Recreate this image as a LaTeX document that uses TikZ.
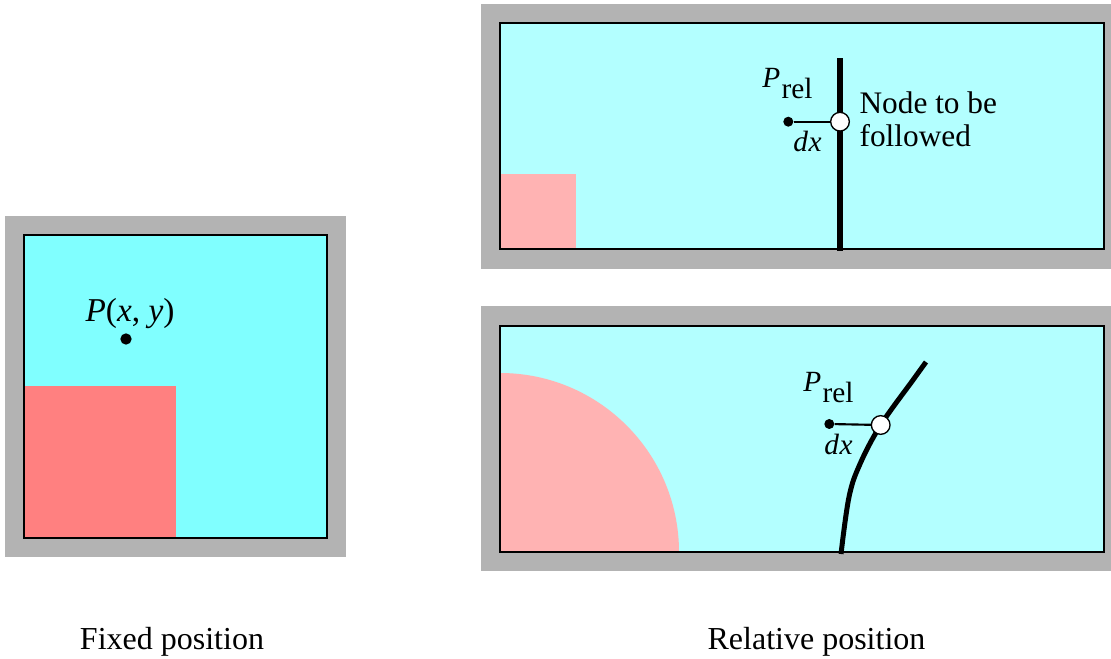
\documentclass[tikz,border=0pt]{standalone}
\usepackage{fontspec}
\setmainfont{Liberation Serif}
\definecolor{panelgray}{RGB}{179,179,179}
\definecolor{cyanA}{RGB}{128,255,255}
\definecolor{redA}{RGB}{255,128,128}
\definecolor{cyanB}{RGB}{179,255,255}
\definecolor{pinkB}{RGB}{255,179,179}
\tikzset{
  panel/.style={fill=panelgray},
  border/.style={draw=black, line width=1.5pt},
  ring/.style={circle, draw=black, fill=white, line width=1pt, minimum size=14pt, inner sep=0pt},
  blackdot/.style={circle, fill=black, minimum size=7.5pt, inner sep=0pt},
  track/.style={line width=4pt},
  link/.style={line width=1.6pt},
  biglbl/.style={inner sep=0pt, font=\fontsize{24}{28}\selectfont},
  midlbl/.style={inner sep=0pt, font=\fontsize{23.5}{25}\selectfont},
  smalllbl/.style={inner sep=0pt, font=\fontsize{22}{26}\selectfont}
}
\begin{document}
\begin{tikzpicture}[x=0.75pt,y=-0.75pt]
\useasboundingbox (0,0) rectangle (1111,659);

% ---------- left panel: fixed position ----------
\fill[panel] (5,216) rectangle (346,557);
\fill[cyanA] (24,235) rectangle (327,538);
\fill[redA] (24,386) rectangle (176,538);
\draw[border] (24,235) rectangle (327,538);
\node[blackdot, minimum size=8.5pt] (pfix) at (126,339) {};
\node[biglbl, font=\fontsize{25}{28}\selectfont, anchor=base] (pfixlbl) at (130,322) {\itshape P\/\upshape(\itshape x\upshape, \itshape y\/\upshape)};

% ---------- top right panel ----------
\fill[panel] (481,4) rectangle (1111,269);
\fill[cyanB] (500.3,23.3) rectangle (1104,249.5);
\fill[pinkB] (500.3,174) rectangle (576,249.5);
\draw[border] (500.3,23.3) rectangle (1104,249.5);
\coordinate (ttop) at (840,58.3);
\coordinate (tbot) at (840,251);
\draw[track] (tbot) -- (ttop);
\coordinate (tc) at (840,121.7);
\node[blackdot] (td) at (788.3,121.7) {};
\draw[link] (td) -- (tc);
\node[ring] (tn) at (tc) {};
\node[smalllbl, anchor=base west] (tp) at (762,88) {\itshape P\upshape\kern1pt\raisebox{-8.25pt}{rel}};
\node[smalllbl, anchor=base west] (tdx) at (793,151.7) {\itshape d\kern0.5pt x};
\node[midlbl, anchor=base west] (tf1) at (859.3,113.3) {Node to be};
\node[midlbl, anchor=base west] (tf2) at (859.3,146.7) {followed};

% ---------- bottom right panel ----------
\fill[panel] (481,306) rectangle (1111,571);
\fill[cyanB] (500.3,325.7) rectangle (1104,552);
\begin{scope}
  \clip (500.3,325.7) rectangle (1104,552);
  \fill[pinkB] (500,552) circle[radius=134.25pt];
\end{scope}
\draw[border] (500.3,325.7) rectangle (1104,552);
\coordinate (bc) at (880.7,425);
\draw[line width=3.75pt] plot[smooth, tension=0.6] coordinates {(841,554) (849,497) (860,464) (bc) (913,380) (926,362)};
\node[blackdot] (bd) at (829.3,424) {};
\draw[link] (bd) -- (bc);
\node[ring] (bn) at (bc) {};
\node[smalllbl, anchor=base west] (bp) at (803,391.7) {\itshape P\upshape\kern1pt\raisebox{-8.25pt}{rel}};
\node[smalllbl, anchor=base west] (bdx) at (824,455) {\itshape d\kern0.5pt x};

% ---------- captions ----------
\node[biglbl, anchor=base] (cap1) at (172,649) {Fixed position};
\node[biglbl, anchor=base] (cap2) at (816.5,649) {Relative position};
\end{tikzpicture}
\end{document}
